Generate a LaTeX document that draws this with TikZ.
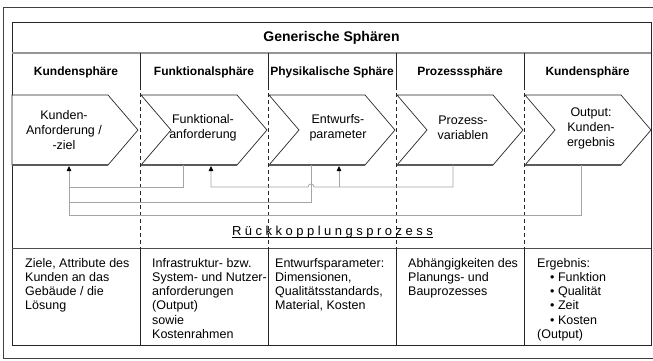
\documentclass[tikz,border=0pt]{standalone}
\usepackage{fontspec}
\setmainfont{Liberation Sans}
\usetikzlibrary{arrows.meta}

\definecolor{framegray}{RGB}{64,64,64}
\definecolor{rulegray}{RGB}{150,150,150}
\definecolor{fbgray}{RGB}{165,165,165}
\definecolor{basegray}{RGB}{90,90,90}

\tikzset{
  every node/.style={inner sep=0pt, font=\fontsize{12.5}{15}\selectfont},
  outerframe/.style={draw=framegray, line width=0.9pt},
  tabline/.style={draw=black!85, line width=0.8pt},
  sepline/.style={draw=rulegray, line width=1.4pt},
  dashsep/.style={draw=black!85, line width=0.7pt, dash pattern=on 4pt off 3pt},
  chev/.style={draw=black!85, line width=0.7pt, fill=white, line join=miter},
  chevbase/.style={draw=basegray, line width=1.6pt},
  fb/.style={draw=fbgray, line width=0.8pt},
  fbarrow/.style={fb, -{Triangle[width=4.5pt,length=5pt,color=black]}},
  title/.style={font=\fontsize{14}{16}\selectfont\bfseries},
  colhead/.style={font=\fontsize{12}{14}\selectfont\bfseries},
  chevtext/.style={align=center, font=\fontsize{12.5}{15}\selectfont},
  celltext/.style={anchor=north west, align=left, font=\fontsize{12.5}{14.2}\selectfont},
  fblabel/.style={anchor=base, font=\fontsize{13}{15}\selectfont},
}

\newcommand\lsp{\kern3.5pt}

\begin{document}
\begin{tikzpicture}[x=1pt, y=-1pt]
\useasboundingbox (0,0) rectangle (653,360);

% outer frame (open to the right)
\draw[outerframe] (653,7) -- (3,7) -- (3,358) -- (653,358);

% table
\draw[tabline] (12,22) rectangle (651,345);
\draw[sepline] (12,53) -- (651,53);
\draw[tabline, draw=black!70, line width=1pt] (12,248) -- (651,248);
\foreach \x in {140,268,396,524} {
  \draw[tabline] (\x,53) -- (\x,86);
  \draw[dashsep] (\x,86) -- (\x,248);
  \draw[tabline] (\x,248) -- (\x,345);
}

% headings
\node[title] (ttl) at (331.5,38) {Generische Sphären};
\node[colhead] (h1) at (76,72) {Kundensphäre};
\node[colhead] (h2) at (204,72) {Funktionalsphäre};
\node[colhead] (h3) at (332,72) {Physikalische Sphäre};
\node[colhead] (h4) at (460,72) {Prozesssphäre};
\node[colhead] (h5) at (587.5,72) {Kundensphäre};

% process chevrons
\draw[chev] (12,95) -- (108,95) -- (138,130) -- (108,165) -- (12,165) -- cycle;
\draw[chevbase] (12,165) -- (108,165);
\foreach \l in {141,269,397,525} {
  \draw[chev] (\l,95) -- ++(96,0) -- ++(30,35) -- ++(-30,35) -- ++(-96,0) -- ++(30,-35) -- cycle;
  \draw[chevbase] (\l,165) -- ++(96,0);
}

\node[chevtext] (k1) at (64,130) {Kunden-\\Anforderung /\\-ziel};
\node[chevtext] (k2) at (203,127.5) {Funktional-\\anforderung};
\node[chevtext] (k3) at (338,127.5) {Entwurfs-\\parameter};
\node[chevtext] (k4) at (463,127.5) {Prozess-\\variablen};
\node[chevtext] (k5) at (591,128) {Output:\\Kunden-\\ergebnis};

% ports on the lower edges of the chevrons
\coordinate (in1) at (69,166);
\coordinate (in2) at (211,166);
\coordinate (in3) at (339,166);
\coordinate (out2) at (183,165);
\coordinate (out3) at (311,165);
\coordinate (out4) at (453,165);
\coordinate (out5) at (581,165);
% feedback buses
\coordinate (bus1) at (69,187);
\coordinate (bus2) at (69,202);
\coordinate (bus3) at (69,215);
\coordinate (hopE) at (314,187);

% feedback loops
\draw[fb] (out2) |- (bus1);
\draw[fb] (out3) |- (bus2);
\draw[fbarrow] (out5) |- (bus3) -- (in1);
\draw[fbarrow] (out4) |- (hopE) arc[start angle=0, end angle=180, radius=3pt] -- (in2 |- bus1) -- (in2);
\draw[fbarrow] (in3 |- bus1) -- (in3);

% feedback label
\node[fblabel] (rk) at (332.5,235)
  {R\lsp ü\lsp c\lsp k\lsp k\lsp o\lsp p\lsp p\lsp l\lsp u\lsp n\lsp g\lsp s\lsp p\lsp r\lsp o\lsp z\lsp e\lsp s\lsp s};
\draw[black, line width=0.8pt] ([yshift=-2.2pt]rk.base west) -- ([yshift=-2.2pt]rk.base east);

% descriptions
\node[celltext] (d1) at (25,258) {Ziele, Attribute des\\Kunden an das\\Gebäude / die\\Lösung};
\node[celltext] (d2) at (152,258) {Infrastruktur- bzw.\\System- und Nutzer-\\anforderungen\\(Output)\\sowie\\Kostenrahmen};
\node[celltext] (d3) at (275,258) {Entwurfsparameter:\\Dimensionen,\\Qualitätsstandards,\\Material, Kosten};
\node[celltext] (d4) at (408,258) {Abhängigkeiten des\\Planungs- und\\Bauprozesses};
\node[celltext] (d5) at (537,258) {Ergebnis:\\\hspace*{13pt}• Funktion\\\hspace*{13pt}• Qualität\\\hspace*{13pt}• Zeit\\\hspace*{13pt}• Kosten\\(Output)};
\end{tikzpicture}
\end{document}
